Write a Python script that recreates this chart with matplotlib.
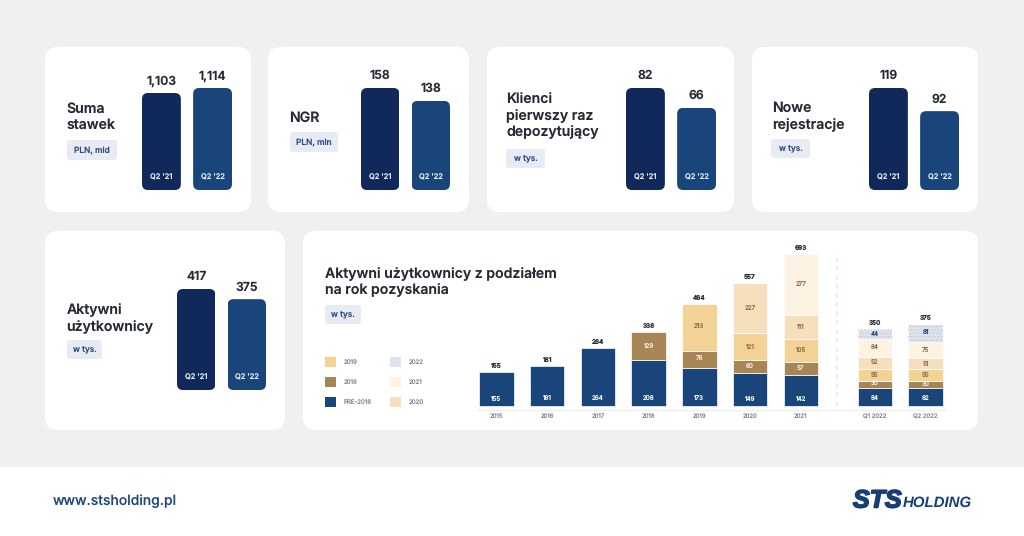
import matplotlib
matplotlib.use("Agg")
import matplotlib.pyplot as plt
from matplotlib.patches import FancyBboxPatch, Patch
from matplotlib.transforms import IdentityTransform
import matplotlib.patheffects as pe

plt.rcParams["text.hinting"] = "no_hinting"
plt.rcParams["text.hinting_factor"] = 1
plt.rcParams["hatch.linewidth"] = 0.6

W, H = 1024, 536
FONT = "Inter"
DARK = "#252a33"
NAVY_DARK = "#10295a"
NAVY = "#1a457b"
PILL_TXT = "#2c4d84"

# ---- DATA ---- #
mini_labels = ["Q2 '21", "Q2 '22"]
bets = [1103, 1114]
ngr = [158, 138]
ftd = [82, 66]
registrations = [119, 92]
active = [417, 375]

years = ["2015", "2016", "2017", "2018", "2019", "2020", "2021", "Q1 2022", "Q2 2022"]
pre2018 = [155, 181, 264, 208, 173, 149, 142, 84, 82]
c2018 = [0, 0, 0, 129, 78, 60, 57, 30, 30]
c2019 = [0, 0, 0, 0, 213, 121, 105, 55, 55]
c2020 = [0, 0, 0, 0, 0, 227, 111, 52, 51]
c2021 = [0, 0, 0, 0, 0, 0, 277, 84, 75]
c2022 = [0, 0, 0, 0, 0, 0, 0, 44, 81]
totals = [155, 181, 264, 338, 464, 557, 693, 350, 375]

fig = plt.figure(figsize=(W / 100, H / 100), dpi=100, facecolor="#f0f0f0")
bg = fig.add_axes([0, 0, 1, 1])
bg.set_xlim(0, W)
bg.set_ylim(H, 0)
bg.axis("off")


def card(x0, y0, x1, y1):
    bg.add_patch(FancyBboxPatch((x0, y0), x1 - x0, y1 - y0, boxstyle="round,pad=0,rounding_size=13",
                                fc="white", ec="none"))


def pill(x0, y0, x1, y1, label):
    bg.add_patch(FancyBboxPatch((x0, y0), x1 - x0, y1 - y0, boxstyle="round,pad=0,rounding_size=3",
                                fc="#e8ebf3", ec="none"))
    bg.text((x0 + x1) / 2, (y0 + y1) / 2, label, color=PILL_TXT, fontsize=6, fontweight="medium",
            family=FONT, ha="center", va="center")


def title(x, y, label, size=10.15):
    bg.text(x, y, label, color=DARK, fontsize=size, fontweight="semibold", family=FONT,
            ha="left", va="center", linespacing=1.2)


def axes_px(x0, y0, x1, y1):
    return fig.add_axes([x0 / W, 1 - y1 / H, (x1 - x0) / W, (y1 - y0) / H], facecolor="none")


def mini_chart(x0, x1, y_bottom, bar_px, values, base=0):
    # x0/x1 are the outer bar edges, bar_px the height of the taller bar
    ax = axes_px(x0, y_bottom - bar_px - 20, x1, y_bottom)
    ax.axis("off")
    ax.set_xlim(-0.38, 1.38)
    ax.set_ylim(base, base + (max(values) - base) * (bar_px + 20) / bar_px)
    bars = ax.bar([0, 1], values, width=0.76, bottom=base, color=[NAVY_DARK, NAVY])
    for i, bar in enumerate(bars):
        p0 = ax.transData.transform((bar.get_x(), base))
        p1 = ax.transData.transform((bar.get_x() + bar.get_width(), values[i]))
        clip = FancyBboxPatch(p0, p1[0] - p0[0], p1[1] - p0[1], boxstyle="round,pad=0,rounding_size=6",
                              transform=IdentityTransform())
        bar.set_clip_path(clip)
        ax.annotate(f"{values[i]:,}", (i, values[i]), xytext=(0, 12), textcoords="offset pixels",
                    ha="center", va="center", color=DARK, fontsize=8.8, fontweight="semibold",
                    family=FONT, annotation_clip=False)
        ax.annotate(mini_labels[i], (i, base), xytext=(0, 13), textcoords="offset pixels",
                    ha="center", va="center", color="#e6ebf3", fontsize=5.4, fontweight="medium", family=FONT)
    return ax


# ---- CARDS ---- #
bg.add_patch(plt.Rectangle((0, 467), W, H - 467, fc="white", ec="none"))
card(45, 47, 251, 212)
card(268, 47, 469, 212)
card(487, 47, 734, 212)
card(752, 47, 978, 212)
card(45, 231, 285, 430)
card(303, 231, 978, 430)

title(66.5, 117, "Suma\nstawek")
pill(67, 140, 117, 160, "PLN, mld")
title(289.5, 118.5, "NGR")
pill(290, 132, 338, 152, "PLN, mln")
title(506.5, 115, "Klienci\npierwszy raz\ndepozytujący")
pill(506, 149, 545, 168, "w tys.")
title(772.5, 116.5, "Nowe\nrejestracje")
pill(771, 139, 810, 158, "w tys.")
title(66.5, 317.5, "Aktywni\nużytkownicy")
pill(67, 340, 102, 359, "w tys.")
title(325, 281, "Aktywni użytkownicy z podziałem\nna rok pozyskania")
pill(325, 305, 361, 324, "w tys.")

mini_chart(142, 232, 190, 102, bets, base=890)
mini_chart(361, 450, 190, 102, ngr)
mini_chart(626, 716, 190, 102, ftd)
mini_chart(869, 959, 190, 102, registrations)
mini_chart(177, 266, 390, 101, active)

# ---- STACKED CHART ---- #
series = [("PRE-2018", pre2018, NAVY, "white"),
          ("2018", c2018, "#a88554", "#f6eee0"),
          ("2019", c2019, "#f3d296", "#8a7048"),
          ("2020", c2020, "#f6dfbd", "#8a7048"),
          ("2021", c2021, "#fef2e3", "#8a7048"),
          ("2022", c2022, "#dfe3ec", NAVY)]
x = [0, 1, 2, 3, 4, 5, 6, 7.46, 8.46]
SCALE = 0.22  # px per thousand users
ax = axes_px(478, 235, 945, 410)
ax.set_xlim(-18.5 / 50.8, 8.46 + 19.5 / 50.8)
ax.set_ylim(-4 / SCALE, 171 / SCALE)
for side in ["top", "left", "right"]:
    ax.spines[side].set_visible(False)
ax.spines["bottom"].set_color("#ececec")
ax.set_yticks([])
ax.set_xticks(x, years, fontsize=4.3, color="#858a95", family=FONT)
ax.tick_params(axis="x", length=0, pad=2.5)

bottom = [0] * len(x)
for name, vals, color, txt in series:
    for i, v in enumerate(vals):
        if v == 0:
            continue
        ax.bar(x[i], v, width=0.68, bottom=bottom[i], color=color, edgecolor="white", linewidth=0.5)
        if name == "2022":
            ax.bar(x[i], v, width=0.68, bottom=bottom[i], color="none", edgecolor="#c3cbda",
                   linewidth=0, hatch=".....")
        # navy segments carry their label near the base, not mid-height
        ly = 30 if name == "PRE-2018" else bottom[i] + v / 2
        ax.text(x[i], ly, str(v), ha="center", va="center", color=txt, fontsize=4.5, family=FONT)
        bottom[i] += v
for i, t in enumerate(totals):
    ax.annotate(str(t), (x[i], bottom[i]), xytext=(0, 6), textcoords="offset pixels", ha="center",
                va="center", color=DARK, fontsize=4.6, fontweight="semibold", family=FONT)

ax.plot([6.72, 6.72], [0, 693], color="#fde6d2", linewidth=1.3, linestyle=(0, (2.5, 2.5)))

handles = [Patch(fc=c, label=n) for n, c in [("2019", "#f3d296"), ("2018", "#a88554"), ("PRE-2018", NAVY),
                                              ("2022", "#dfe3ec"), ("2021", "#fef2e3"), ("2020", "#f6dfbd")]]
bg.legend(handles=handles, ncol=2, frameon=False, loc="upper left", bbox_to_anchor=(323, 355.5),
          bbox_transform=bg.transData, prop={"family": FONT, "size": 4.4}, handlelength=1.8, handleheight=2.1,
          handletextpad=1.25, labelspacing=1.65, columnspacing=3.1, borderpad=0.3, borderaxespad=0,
          labelcolor="#858a95")

# ---- FOOTER ---- #
bg.text(53, 501, "www.stsholding.pl", color="#22487c", fontsize=10, family=FONT, fontweight="medium",
        ha="left", va="center")
bg.text(853, 501, "STS", color="#173f75", fontsize=18, fontweight="bold", style="italic",
        family="Liberation Sans", ha="left", va="center",
        path_effects=[pe.withStroke(linewidth=1.2, foreground="#173f75")])
bg.text(903, 503, "HOLDING", color="#173f75", fontsize=10.5, fontweight="bold", style="italic",
        family="Liberation Sans", ha="left", va="center")

plt.savefig("out.png", dpi=100)
